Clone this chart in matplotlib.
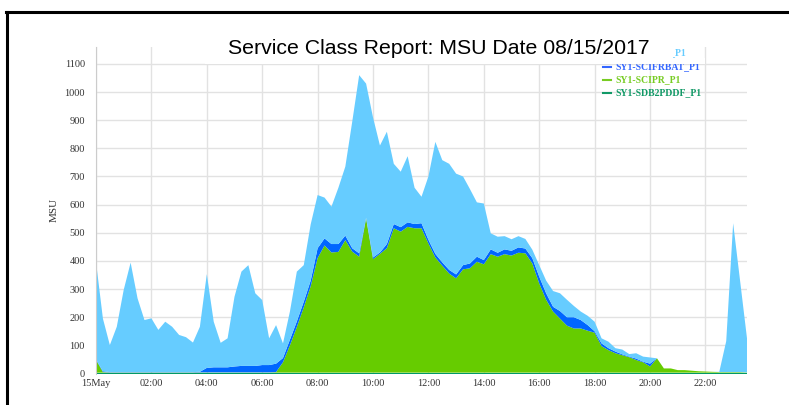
import matplotlib.pyplot as plt
from matplotlib.patches import Rectangle
from matplotlib.lines import Line2D
import numpy as np

# 15-minute samples, 00:00 .. 23:30
hours = np.arange(95) * 0.25

series_names = ['SY1-SCIBAT_P1', 'SY1-SCIFRBAT_P1', 'SY1-SCIPR_P1', 'SY1-SDB2PDDF_P1']
series_colors = ['#66CCFF', '#0066FF', '#66CC00', '#009966']
legend_colors = ['#66CCFF', '#3366FF', '#77CC22', '#119966']

light = [347, 187, 96, 161, 292, 389, 262, 185, 191, 150, 179, 161, 132, 124, 105, 160,
         333, 162, 87, 103, 248, 335, 358, 258, 231, 95, 137, 52, 100, 177, 130, 200,
         189, 145, 133, 200, 245, 450, 633, 477, 498, 380, 399, 214, 197, 235, 129, 94,
         225, 398, 363, 377, 358, 315, 264, 193, 201, 57, 57, 47, 41, 40, 34, 30,
         41, 45, 56, 63, 62, 40, 30, 33, 34, 18, 23, 12, 17, 9, 19, 18,
         22, 0, 0, 0, 0, 0, 0, 0, 0, 0, 1, 110, 529, 325, 121]
blue = [2, 3, 1, 1, 1, 1, 1, 1, 1, 1, 1, 1, 1, 1, 1, 2,
        16, 18, 18, 18, 21, 23, 23, 23, 26, 26, 30, 15, 20, 20, 20, 20,
        35, 25, 30, 28, 16, 12, 12, 2, 6, 5, 15, 15, 16, 16, 15, 18,
        13, 13, 12, 13, 14, 15, 17, 18, 15, 17, 14, 17, 17, 19, 17, 19,
        24, 23, 17, 27, 30, 40, 30, 20, 5, 10, 7, 6, 3, 2, 5, 2,
        10, 0, 0, 0, 0, 0, 0, 0, 0, 0, 0, 0, 0, 0, 0]
green = [45, 2, 1, 1, 1, 1, 1, 1, 1, 1, 1, 1, 1, 1, 1, 1,
         1, 1, 1, 1, 1, 1, 1, 1, 1, 1, 2, 37, 97, 162, 232, 307,
         407, 452, 427, 429, 471, 430, 412, 548, 403, 422, 442, 513, 501, 518, 513, 513,
         459, 409, 380, 352, 335, 367, 371, 394, 385, 421, 412, 421, 416, 426, 424, 388,
         317, 259, 217, 192, 167, 157, 157, 149, 142, 94, 80, 69, 62, 55, 45, 37,
         22, 51, 15, 15, 9, 9, 7, 5, 4, 3, 2, 2, 2, 2, 1]
dkgreen = [3] * 95

xtick_pos = [0, 2, 4, 6, 8, 10, 12, 14, 16, 18, 20, 22]
xtick_labels = ['15May', '02:00', '04:00', '06:00', '08:00', '10:00',
                '12:00', '14:00', '16:00', '18:00', '20:00', '22:00']
ytick_pos = list(range(0, 1101, 100))

W, H = 789, 405
fig = plt.figure(figsize=(W / 100, H / 100), dpi=100)
fig.patch.set_facecolor('white')

ax = fig.add_axes([96 / W, 1 - 373.5 / H, (747 - 96) / W, (373.5 - 47) / H])
ax.stackplot(hours, dkgreen, green, blue, light,
             colors=series_colors[::-1], linewidth=0)
ax.set_xlim(0, 23.5)
ax.set_ylim(0, 1160)
ax.set_xticks(xtick_pos)
ax.set_xticklabels(xtick_labels)
ax.set_yticks(ytick_pos)
ax.grid(color='#E2E2E2', linewidth=1)
ax.set_axisbelow(True)
for s in ['top', 'right', 'bottom']:
    ax.spines[s].set_visible(False)
ax.spines['left'].set_color('#CCCCCC')
ax.tick_params(axis='y', length=0, labelsize=7.5, labelcolor='#333333', pad=8)
ax.tick_params(axis='x', length=0, labelsize=7.5, labelcolor='#333333', pad=4)
for lab in ax.get_xticklabels() + ax.get_yticklabels():
    lab.set_family('Liberation Serif')
ax.set_ylabel('MSU', family='Liberation Serif', fontsize=8, color='#333333', labelpad=4)

# legend (top right, partly hidden behind the title box)
leg_y = [53, 67, 79.5, 92.5]
fig.text(686 / W, 1 - leg_y[0] / H, series_names[0], color=legend_colors[0],
         family='Liberation Serif', fontweight='bold', fontsize=7,
         ha='right', va='center')
for name, col, y in zip(series_names[1:], legend_colors[1:], leg_y[1:]):
    fig.text(615 / W, 1 - y / H, name, color=col, family='Liberation Serif',
             fontweight='bold', fontsize=7, ha='left', va='center')
    fig.add_artist(Line2D([603 / W, 611 / W], [1 - y / H, 1 - y / H],
                          color=col, linewidth=1.5))

# title box pasted over the chart
fig.add_artist(Rectangle((205 / W, 1 - 64 / H), (673 - 205) / W, 46 / H,
                         transform=fig.transFigure, facecolor='white',
                         edgecolor='none', zorder=5))
fig.add_artist(Rectangle((673 / W, 1 - 64 / H), 32 / W, 6.5 / H,
                         transform=fig.transFigure, facecolor='white',
                         edgecolor='none', zorder=5))
fig.text(439 / W, 1 - 49 / H, 'Service Class Report: MSU Date 08/15/2017',
         family='Liberation Sans', fontsize=15.3, color='black',
         ha='center', va='center', zorder=6)

# black frame of the screenshot
fig.add_artist(Line2D([6 / W, 1], [1 - 12 / H, 1 - 12 / H], color='black', linewidth=2.2))
fig.add_artist(Line2D([7 / W, 7 / W], [0, 1 - 12 / H], color='black', linewidth=2.2))

fig.savefig('out.png', dpi=100)
